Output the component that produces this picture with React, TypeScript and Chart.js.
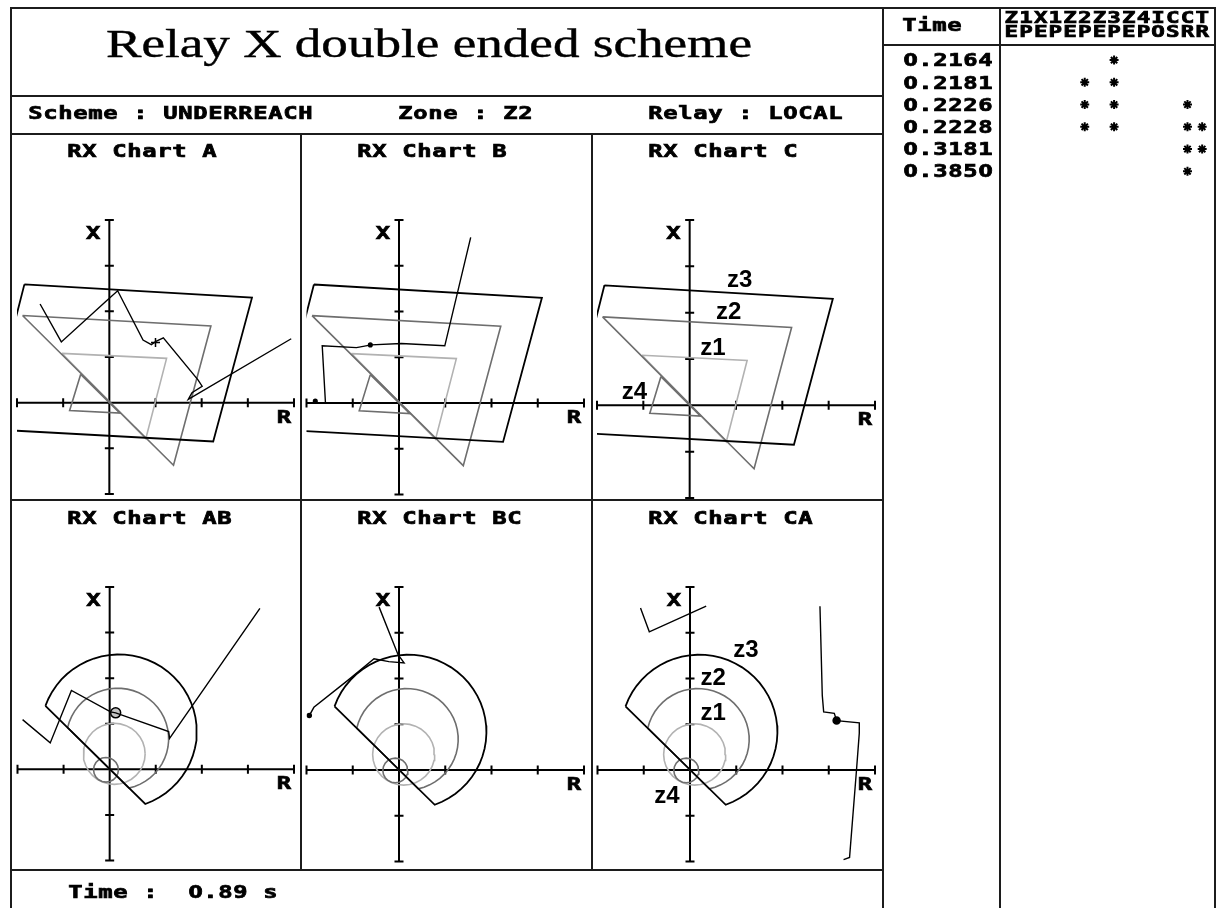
import { useEffect, useRef } from 'react';
import { Chart, registerables } from 'chart.js';

Chart.register(...registerables);

// ---------- report text ----------
const reportTitle = 'Relay X double ended scheme';
const schemeText = 'Scheme : UNDERREACH';
const zoneText = 'Zone : Z2';
const relayText = 'Relay : LOCAL';
const footerText = 'Time :  0.89 s';

// ---------- RX plane (ohms per division) ----------
const axisTicks = [-2, -1, 0, 1, 2, 3, 4];
const axisLabelX = [-0.35, 3.72];
const axisLabelR = [3.78, -0.3];

// quadrilateral characteristics, phase-to-earth elements (R, X)
const quadZone1 = [[-1.03, 1.08], [1.24, 0.97], [0.79, -0.79], [-1.03, 1.08]];
const quadZone2 = [[-1.88, 1.91], [2.2, 1.68], [1.39, -1.37], [-1.88, 1.91]];
const quadZone3 = [[-1.84, 2.59], [3.09, 2.3], [2.25, -0.85], [-2.64, -0.58], [-1.84, 2.59]];
const quadZone4 = [[-0.62, 0.62], [-0.86, -0.17], [0.23, -0.23], [-0.62, 0.62]];

// mho characteristics, phase-to-phase elements: [centreR, centreX, radius, startDeg, endDeg]
const mhoZone1 = [0.1, 0.34, 0.67, 0, 360];
const mhoZone2 = [0.17, 0.67, 1.11, 167.2, -77.2];
const mhoZone3 = [0.2, 0.83, 1.69, 160.6, -70.2];
const mhoZone4 = [-0.08, -0.01, 0.27, 0, 360];

// impedance trajectories seen by each element
const trajA = [[-1.5, 2.16], [-1.04, 1.33], [-0.06, 2.23], [0.18, 2.45], [0.73, 1.37], [0.91, 1.27], [1.01, 1.34], [1.17, 1.42], [1.92, 0.5], [2.01, 0.36], [1.79, 0.22], [1.71, 0.07], [3.94, 1.4]];
const trajB = [[1.55, 3.62], [0.99, 1.25], [0.05, 1.3], [-0.6, 1.27], [-0.92, 1.21], [-1.66, 1.25], [-1.59, 0.0]];
const trajAB = [[-1.89, 1.09], [-1.29, 0.58], [-0.83, 1.73], [0.02, 1.26], [0.13, 1.24], [1.28, 0.83], [1.3, 0.68], [3.26, 3.53]];
const trajBC = [[-0.43, 3.56], [-0.02, 2.52], [0.11, 2.34], [-0.22, 2.37], [-0.54, 2.43], [-1.08, 1.98], [-1.84, 1.37], [-1.94, 1.19]];
const trajCA1 = [[-1.07, 3.54], [-0.88, 3.02], [0.35, 3.58]];
const trajCA2 = [[2.81, 3.58], [2.86, 1.63], [2.89, 1.27], [3.12, 1.24], [3.17, 1.08], [3.66, 1.03], [3.66, 0.8], [3.6, 0.0], [3.45, -1.91], [3.32, -1.96]];

// current impedance markers
const markA = [[1.0, 1.32]];
const markB = [[-0.62, 1.27], [-1.81, 0.04]];
const markAB = [[0.13, 1.24]];
const markBC = [[-1.94, 1.19]];
const markCA = [[3.17, 1.08]];

// zone annotations
const zoneNames = ['z1', 'z2', 'z3', 'z4'];
const quadLabelPos = [[0.5, 1.27], [0.84, 2.05], [1.08, 2.74], [-1.19, 0.32]];
const mhoLabelPos = [[0.5, 1.27], [0.5, 2.05], [1.21, 2.66], [-0.5, -0.53]];

// ---------- event log ----------
const headerTop = 'Z1X1Z2Z3Z4ICCT';
const headerBottom = 'EPEPEPEPEPOSRR';
const eventColumns = ['Z1E', 'Z1P', 'X1E', 'X1P', 'Z2E', 'Z2P', 'Z3E', 'Z3P', 'Z4E', 'Z4P', 'IO', 'CS', 'CR', 'TR'];
const eventTimes = ['0.2164', '0.2181', '0.2226', '0.2228', '0.3181', '0.3850'];
const eventFlags = [['Z3P'], ['Z2P', 'Z3P'], ['Z2P', 'Z3P', 'CR'], ['Z2P', 'Z3P', 'CR', 'TR'], ['CR', 'TR'], ['CR']];

// ---------- layout ----------
const PAGE_W = 1218;
const PAGE_H = 908;
const COL_LEFTS = [11, 301, 592];
const ROW_TOPS = [134, 501];
const CELL_W = 290;
const CELL_H = 366;
const CELL_PAD = { left: 5, right: 7, top: 86, bottom: 2 };

const TABLE_LEFT = 883;
const TABLE_TOP = 8;
const TABLE_W = 333;
const TABLE_H = 900;
const TABLE_PAD = { left: 121, right: 3, top: 41, bottom: 0 };
const ROW_H = 22.4;

const INK = '#000';
const FRAME = '#1c1c1c';
const ZONE_DARK = '#000';
const ZONE_MID = '#6e6e6e';
const ZONE_LIGHT = '#b2b2b2';

const MONO = '"DejaVu Sans Mono", monospace';
const PLAIN = '"DejaVu Sans", sans-serif';

// wide bitmap-style lettering: one glyph per fixed cell, stretched horizontally
function drawChars(ctx, text, left, cy, size = 17, adv = 15, sx = 1.4) {
  ctx.save();
  ctx.textAlign = 'center';
  ctx.textBaseline = 'alphabetic';
  ctx.fillStyle = INK;
  ctx.strokeStyle = INK;
  ctx.lineWidth = 0.7;
  const base = cy + (size * 0.729) / 2;
  for (let i = 0; i < text.length; i++) {
    const ch = text[i];
    if (ch === ' ') continue;
    // plain (unslashed) zero
    const zero = ch === '0';
    ctx.font = `bold ${size}px ${zero ? PLAIN : MONO}`;
    ctx.save();
    ctx.translate(left + adv * (i + 0.5), base);
    ctx.scale(zero ? sx * 0.86 : sx, 1);
    ctx.fillText(ch, 0, 0);
    ctx.strokeText(ch, 0, 0);
    ctx.restore();
  }
  ctx.restore();
}

function drawSheet(ctx) {
  ctx.fillStyle = '#fff';
  ctx.fillRect(0, 0, PAGE_W, PAGE_H);
  ctx.strokeStyle = FRAME;
  ctx.lineWidth = 2;
  const seg = (x1, y1, x2, y2) => {
    ctx.beginPath();
    ctx.moveTo(x1, y1);
    ctx.lineTo(x2, y2);
    ctx.stroke();
  };
  seg(10, 8, 1216, 8);
  seg(11, 7, 11, PAGE_H);
  seg(883, 7, 883, PAGE_H);
  seg(1000, 7, 1000, PAGE_H);
  seg(1215, 7, 1215, PAGE_H);
  seg(883, 45, 1215, 45);
  seg(11, 96, 883, 96);
  seg(11, 134, 883, 134);
  seg(11, 500, 883, 500);
  seg(11, 870, 883, 870);
  seg(301, 134, 301, 870);
  seg(592, 134, 592, 870);

  // title, stretched to its box
  ctx.save();
  ctx.font = '40px "Liberation Serif", "Times New Roman", serif';
  ctx.fillStyle = INK;
  ctx.strokeStyle = INK;
  ctx.lineWidth = 0.4;
  ctx.textBaseline = 'alphabetic';
  ctx.textAlign = 'left';
  const w = ctx.measureText(reportTitle).width;
  ctx.translate(106, 57);
  ctx.scale(646 / w, 1);
  ctx.fillText(reportTitle, 0, 0);
  ctx.strokeText(reportTitle, 0, 0);
  ctx.restore();

  drawChars(ctx, schemeText, 28, 113);
  drawChars(ctx, zoneText, 398, 113);
  drawChars(ctx, relayText, 648, 113);
  drawChars(ctx, footerText, 68, 892);
}

const toXY = (pts) => pts.map(([x, y]) => ({ x, y }));

function arcPath(zone, steps) {
  const [cx, cy, r, a0, a1] = zone;
  const out = [];
  for (let i = 0; i <= steps; i++) {
    const a = ((a0 + ((a1 - a0) * i) / steps) * Math.PI) / 180;
    out.push([cx + r * Math.cos(a), cy + r * Math.sin(a)]);
  }
  if (Math.abs(a1 - a0) < 360) out.push(out[0]);
  return out;
}

const lineSet = (pts, color, width) => ({
  data: toXY(pts),
  showLine: true,
  borderColor: color,
  borderWidth: width,
  pointRadius: 0,
  fill: false,
  tension: 0,
});

const panels = [
  { title: 'RX Chart A', col: 0, row: 0, mho: false, paths: [trajA], marks: markA, look: { style: 'cross', r: 4.5, fill: INK }, labels: null },
  { title: 'RX Chart B', col: 1, row: 0, mho: false, paths: [trajB], marks: markB, look: { style: 'circle', r: 1.8, fill: INK }, labels: null },
  { title: 'RX Chart C', col: 2, row: 0, mho: false, paths: [], marks: [], look: null, labels: quadLabelPos },
  { title: 'RX Chart AB', col: 0, row: 1, mho: true, paths: [trajAB], marks: markAB, look: { style: 'circle', r: 5, fill: '#c4c4c4' }, labels: null },
  { title: 'RX Chart BC', col: 1, row: 1, mho: true, paths: [trajBC], marks: markBC, look: { style: 'circle', r: 2, fill: INK }, labels: null },
  { title: 'RX Chart CA', col: 2, row: 1, mho: true, paths: [trajCA1, trajCA2], marks: markCA, look: { style: 'circle', r: 3.5, fill: INK }, labels: mhoLabelPos },
];

function rxDecor(panel) {
  return {
    id: 'rxDecor',
    beforeDatasetsDraw(chart) {
      const { ctx } = chart;
      const xs = chart.scales.x;
      const ys = chart.scales.y;
      const x0 = xs.getPixelForValue(0);
      const y0 = ys.getPixelForValue(0);
      const first = axisTicks[0];
      const last = axisTicks[axisTicks.length - 1];
      ctx.save();
      ctx.strokeStyle = INK;
      ctx.lineWidth = 2;
      ctx.beginPath();
      ctx.moveTo(xs.getPixelForValue(first), y0);
      ctx.lineTo(xs.getPixelForValue(last), y0);
      ctx.moveTo(x0, ys.getPixelForValue(first));
      ctx.lineTo(x0, ys.getPixelForValue(last));
      axisTicks.forEach((t) => {
        if (t === 0) return;
        const px = xs.getPixelForValue(t);
        ctx.moveTo(px, y0 - 4.5);
        ctx.lineTo(px, y0 + 4.5);
        const py = ys.getPixelForValue(t);
        ctx.moveTo(x0 - 4.5, py);
        ctx.lineTo(x0 + 4.5, py);
      });
      ctx.stroke();
      ctx.restore();
    },
    afterDraw(chart) {
      const { ctx } = chart;
      const xs = chart.scales.x;
      const ys = chart.scales.y;
      drawChars(ctx, panel.title, 56, 16.5);
      drawChars(ctx, 'X', xs.getPixelForValue(axisLabelX[0]) - 7.5, ys.getPixelForValue(axisLabelX[1]));
      drawChars(ctx, 'R', xs.getPixelForValue(axisLabelR[0]) - 7.5, ys.getPixelForValue(axisLabelR[1]));
      if (panel.labels) {
        ctx.save();
        ctx.font = 'bold 24px "Liberation Sans", Arial, sans-serif';
        ctx.fillStyle = INK;
        ctx.textAlign = 'center';
        ctx.textBaseline = 'alphabetic';
        panel.labels.forEach(([r, x], i) => {
          ctx.fillText(zoneNames[i], xs.getPixelForValue(r), ys.getPixelForValue(x) + 8.6);
        });
        ctx.restore();
      }
    },
  };
}

function rxConfig(panel) {
  const datasets = [];
  panel.paths.forEach((p) => datasets.push(lineSet(p, INK, 1.4)));
  if (panel.marks.length && panel.look) {
    datasets.push({
      data: toXY(panel.marks),
      showLine: false,
      pointStyle: panel.look.style,
      pointRadius: panel.look.r,
      pointBackgroundColor: panel.look.fill,
      pointBorderColor: INK,
      pointBorderWidth: 1.5,
    });
  }
  if (panel.mho) {
    datasets.push(lineSet(arcPath(mhoZone3, 40), ZONE_DARK, 1.8));
    datasets.push(lineSet(arcPath(mhoZone2, 36), ZONE_MID, 1.6));
    datasets.push(lineSet(arcPath(mhoZone4, 20), ZONE_MID, 1.6));
    datasets.push(lineSet(arcPath(mhoZone1, 32), ZONE_LIGHT, 1.6));
  } else {
    datasets.push(lineSet(quadZone3, ZONE_DARK, 1.8));
    datasets.push(lineSet(quadZone2, ZONE_MID, 1.6));
    datasets.push(lineSet(quadZone4, ZONE_MID, 1.6));
    datasets.push(lineSet(quadZone1, ZONE_LIGHT, 1.6));
  }
  const first = axisTicks[0];
  const last = axisTicks[axisTicks.length - 1];
  return {
    type: 'scatter',
    data: { datasets },
    options: {
      responsive: false,
      animation: false,
      devicePixelRatio: 1,
      events: [],
      layout: { padding: CELL_PAD },
      scales: {
        x: { type: 'linear', min: first, max: last, display: false },
        y: { type: 'linear', min: first, max: last, display: false },
      },
      plugins: { legend: { display: false }, tooltip: { enabled: false }, title: { display: false } },
    },
    plugins: [rxDecor(panel)],
  };
}

const tableDecor = {
  id: 'tableDecor',
  afterDraw(chart) {
    const { ctx } = chart;
    const xs = chart.scales.x;
    const ys = chart.scales.y;
    const adv = xs.getPixelForValue(1) - xs.getPixelForValue(0);
    for (let i = 0; i < headerTop.length; i++) {
      const cx = xs.getPixelForValue(i + 0.5);
      drawChars(ctx, headerTop[i], cx - adv / 2, 9.5, 15, adv, 1.5);
      drawChars(ctx, headerBottom[i], cx - adv / 2, 23.5, 15, adv, 1.5);
    }
    drawChars(ctx, 'Time', 19, 17);
    eventTimes.forEach((t, i) => drawChars(ctx, t, 20, ys.getPixelForValue(i)));
  },
};

function tableConfig() {
  const pts = eventFlags.flatMap((flags, row) =>
    flags.map((code) => ({ x: eventColumns.indexOf(code) + 0.5, y: row }))
  );
  const rowsVisible = (TABLE_H - TABLE_PAD.top - TABLE_PAD.bottom) / ROW_H;
  return {
    type: 'scatter',
    data: {
      datasets: [
        {
          data: pts,
          pointStyle: 'star',
          pointRadius: 4.5,
          pointBorderColor: INK,
          pointBackgroundColor: INK,
          pointBorderWidth: 2,
        },
      ],
    },
    options: {
      responsive: false,
      animation: false,
      devicePixelRatio: 1,
      events: [],
      layout: { padding: TABLE_PAD },
      scales: {
        x: { type: 'linear', min: 0, max: eventColumns.length, display: false },
        y: { type: 'linear', reverse: true, min: -0.5, max: rowsVisible - 0.5, display: false },
      },
      plugins: { legend: { display: false }, tooltip: { enabled: false } },
    },
    plugins: [tableDecor],
  };
}

export default function App() {
  const sheetRef = useRef(null);
  const panelRefs = useRef([]);
  const tableRef = useRef(null);

  useEffect(() => {
    const sheet = sheetRef.current;
    if (sheet) drawSheet(sheet.getContext('2d'));
    const charts = [];
    panels.forEach((p, i) => {
      const cv = panelRefs.current[i];
      if (cv) charts.push(new Chart(cv, rxConfig(p)));
    });
    if (tableRef.current) charts.push(new Chart(tableRef.current, tableConfig()));
    return () => charts.forEach((c) => c.destroy());
  }, []);

  return (
    <div style={{ position: 'absolute', left: 0, top: 0, width: PAGE_W, height: PAGE_H, background: '#fff', overflow: 'hidden' }}>
      <canvas ref={sheetRef} width={PAGE_W} height={PAGE_H} style={{ position: 'absolute', left: 0, top: 0 }} />
      {panels.map((p, i) => (
        <canvas
          key={p.title}
          ref={(el) => {
            panelRefs.current[i] = el;
          }}
          width={CELL_W}
          height={CELL_H}
          style={{ position: 'absolute', left: COL_LEFTS[p.col], top: ROW_TOPS[p.row], width: CELL_W, height: CELL_H }}
        />
      ))}
      <canvas
        ref={tableRef}
        width={TABLE_W}
        height={TABLE_H}
        style={{ position: 'absolute', left: TABLE_LEFT, top: TABLE_TOP, width: TABLE_W, height: TABLE_H }}
      />
    </div>
  );
}
